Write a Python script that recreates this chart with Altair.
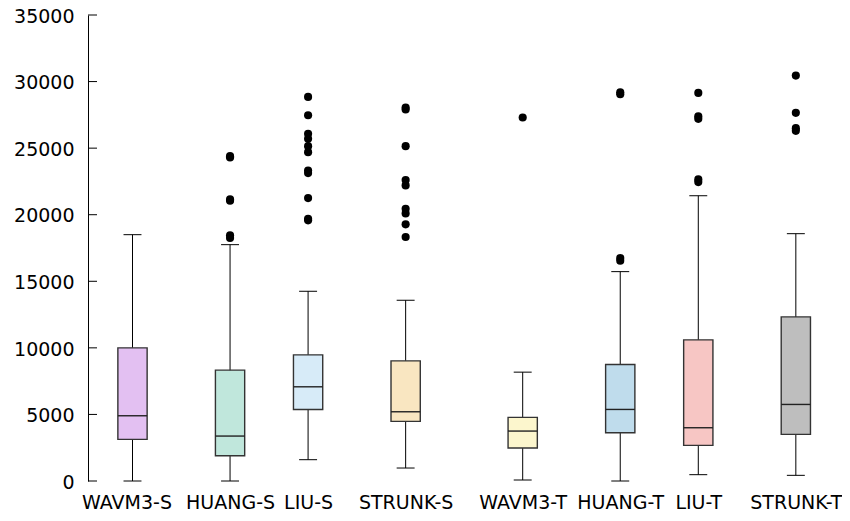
import altair as alt
import pandas as pd

# ---- data ----
categories = ["WAVM3-S", "HUANG-S", "LIU-S", "STRUNK-S", "WAVM3-T", "HUANG-T", "LIU-T", "STRUNK-T"]
slots = [1, 6, 10, 15, 21, 26, 30, 35]
whisker_low = [0, 0, 1600, 975, 75, 0, 475, 425]
q1 = [3125, 1900, 5375, 4475, 2475, 3625, 2675, 3500]
median = [4900, 3375, 7075, 5200, 3750, 5375, 4000, 5750]
q3 = [10000, 8325, 9475, 9025, 4775, 8750, 10600, 12325]
whisker_high = [18500, 17750, 14250, 13575, 8175, 15725, 21425, 18575]
colors = ["#e3c0f2", "#c0e7dc", "#d7ebf8", "#f9e6c1", "#fcf6cd", "#bfdcec", "#f7c6c4", "#bebebe"]
outliers = {
    "WAVM3-S": [],
    "HUANG-S": [24400, 24300, 21150, 21050, 18450, 18250],
    "LIU-S": [28850, 27475, 26075, 25700, 25150, 24700, 23325, 23125, 21250, 19700, 19575],
    "STRUNK-S": [28050, 27900, 25150, 22600, 22200, 20450, 20100, 19275, 18325],
    "WAVM3-T": [27300],
    "HUANG-T": [29200, 29050, 16750, 16550],
    "LIU-T": [29150, 27400, 27200, 22650, 22450],
    "STRUNK-T": [30450, 27650, 26500, 26300],
}
y_ticks = [0, 5000, 10000, 15000, 20000, 25000, 30000, 35000]

box_half = 0.75
cap_half = 0.46
FONT = "DejaVu Sans"
FS = 19

boxes = pd.DataFrame({
    "cat": categories, "pos": slots, "lo": whisker_low, "q1": q1,
    "med": median, "q3": q3, "hi": whisker_high, "color": colors,
})
boxes["bl"] = boxes["pos"] - box_half
boxes["br"] = boxes["pos"] + box_half
boxes["cl"] = boxes["pos"] - cap_half
boxes["cr"] = boxes["pos"] + cap_half

out_rows = []
for c, p in zip(categories, slots):
    for v in outliers[c]:
        out_rows.append({"cat": c, "pos": p, "v": v})
outs = pd.DataFrame(out_rows)

label_expr = "[" + ",".join("'%s'" % c for c in categories) + "][indexof([" + ",".join(str(s) for s in slots) + "], datum.value)]"

xscale = alt.Scale(domain=[-1.281, 36.956], nice=False, zero=False)
yscale = alt.Scale(domain=[0, 35000], nice=False)

xaxis = alt.Axis(values=slots, labelExpr=label_expr, domain=False, ticks=False, tickSize=0,
                 grid=False, title=None, labelFont=FONT, labelFontSize=FS, labelColor="black",
                 labelPadding=12.5, labelAngle=0, labelOverlap=False,
                 labelOffset={"condition": {"test": "datum.value == %d" % slots[0], "value": -6}, "value": 0})
yaxis = alt.Axis(values=y_ticks, domain=True, domainColor="black", domainWidth=1, ticks=False,
                 tickSize=0, grid=False, title=None, labelFont=FONT, labelFontSize=FS,
                 labelColor="black", labelPadding=14, format="d", labelOffset=1.2)

base = alt.Chart(boxes)

whisk = base.mark_rule(color="black", strokeWidth=1).encode(
    x=alt.X("pos:Q", scale=xscale, axis=xaxis),
    y=alt.Y("lo:Q", scale=yscale, axis=yaxis),
    y2="hi:Q",
)
cap_lo = base.mark_rule(color="black", strokeWidth=1).encode(
    x=alt.X("cl:Q", scale=xscale), x2="cr:Q", y=alt.Y("lo:Q", scale=yscale))
cap_hi = base.mark_rule(color="black", strokeWidth=1).encode(
    x=alt.X("cl:Q", scale=xscale), x2="cr:Q", y=alt.Y("hi:Q", scale=yscale))
box = base.mark_rect(stroke="#333333", strokeWidth=1.4).encode(
    x=alt.X("bl:Q", scale=xscale), x2="br:Q",
    y=alt.Y("q1:Q", scale=yscale), y2="q3:Q",
    fill=alt.Fill("color:N", scale=None),
)
med = base.mark_rule(color="#222222", strokeWidth=1.4).encode(
    x=alt.X("bl:Q", scale=xscale), x2="br:Q", y=alt.Y("med:Q", scale=yscale))
pts = alt.Chart(outs).mark_circle(color="black", opacity=1, size=66).encode(
    x=alt.X("pos:Q", scale=xscale), y=alt.Y("v:Q", scale=yscale))
ticks = alt.Chart(pd.DataFrame({"t": y_ticks})).mark_rule(color="black", strokeWidth=1).encode(
    x=alt.value(0), x2=alt.value(9), y=alt.Y("t:Q", scale=yscale))

chart = alt.layer(whisk, cap_lo, cap_hi, box, med, pts, ticks).properties(
    width=746, height=466,
    autosize=alt.AutoSizeParams(type="none"),
    padding={"left": 80, "top": 7, "right": 8, "bottom": 32},
    background="white",
).configure_view(stroke=None, strokeWidth=0)

chart.save("out.html", embed_options={"renderer": "svg", "actions": False})
